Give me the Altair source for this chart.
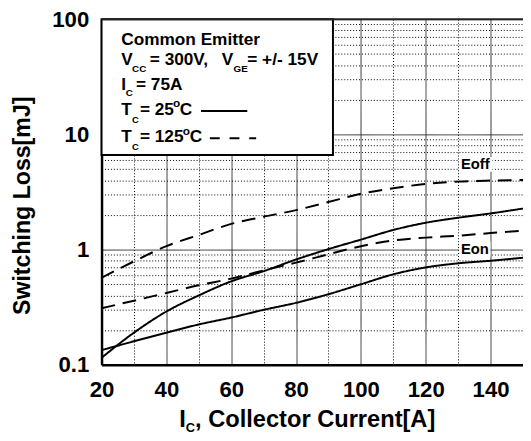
import altair as alt
import pandas as pd

FONT = "Liberation Sans, Arial, Helvetica, sans-serif"

# Collector current [A]
current = [20, 30, 40, 50, 60, 70, 80, 90, 100, 110, 120, 130, 140, 150]
# Switching loss [mJ]
eoff_125 = [0.57, 0.79, 1.07, 1.34, 1.67, 1.93, 2.20, 2.59, 3.05, 3.41, 3.71, 3.89, 3.97, 4.02]
eoff_25 = [0.115, 0.19, 0.29, 0.40, 0.53, 0.65, 0.82, 1.01, 1.22, 1.48, 1.71, 1.89, 2.06, 2.27]
eon_125 = [0.31, 0.36, 0.42, 0.49, 0.56, 0.66, 0.77, 0.91, 1.07, 1.20, 1.27, 1.32, 1.39, 1.46]
eon_25 = [0.134, 0.16, 0.19, 0.224, 0.257, 0.30, 0.345, 0.41, 0.50, 0.61, 0.70, 0.76, 0.80, 0.85]

x_grid = [20, 30, 40, 50, 60, 70, 80, 90, 100, 110, 120, 130, 140, 150]
y_grid = [0.1, 0.2, 0.3, 0.4, 0.5, 0.6, 0.7, 0.8, 0.9,
          1, 2, 3, 4, 5, 6, 7, 8, 9,
          10, 20, 30, 40, 50, 60, 70, 80, 90, 100]

series = [("Eoff 125", eoff_125, "125°C"), ("Eoff 25", eoff_25, "25°C"),
          ("Eon 125", eon_125, "125°C"), ("Eon 25", eon_25, "25°C")]
rows = []
for name, vals, temp in series:
    for c, v in zip(current, vals):
        rows.append({"current": c, "loss": v, "curve": name, "temp": temp})
df = pd.DataFrame(rows)

W, H = 428, 351

xaxis = alt.Axis(
    values=x_grid,
    labelExpr="(datum.value % 20 == 0 && datum.value < 150) ? datum.label : ''",
    title=None, grid=True,
    gridColor={"condition": {"test": "datum.value % 20 == 0", "value": "#333333"}, "value": "#000000"},
    gridDash={"condition": {"test": "datum.value % 20 == 0", "value": [1, 0]}, "value": [1, 2]},
    gridWidth=1, ticks=False, tickSize=0,
    domainColor="black", domainWidth=2.5,
    labelFont=FONT, labelFontSize=22.5, labelFontWeight="bold", labelColor="black",
    labelPadding=14, labelFlush=False, labelOverlap=False,
)
yaxis = alt.Axis(
    values=y_grid,
    labelExpr="indexof([0.1, 1, 10, 100], datum.value) >= 0 ? format(datum.value, '~g') : ''",
    title="Switching Loss[mJ]", titleFont=FONT, titleFontSize=23.5, titleFontWeight="bold",
    titleColor="black", titlePadding=18, titleY=189,
    grid=True,
    gridColor={"condition": {"test": "indexof([0.1, 1, 10, 100], datum.value) >= 0", "value": "#333333"}, "value": "#000000"},
    gridDash={"condition": {"test": "indexof([0.1, 1, 10, 100], datum.value) >= 0", "value": [1, 0]}, "value": [1, 2]},
    gridWidth=1, ticks=False, tickSize=0,
    domainColor="black", domainWidth=2.5,
    labelFont=FONT, labelFontSize=22.5, labelFontWeight="bold", labelColor="black",
    labelPadding=13, labelOverlap=False,
)

lines = alt.Chart(df).mark_line(color="black", strokeWidth=2, interpolate="monotone", clip=True).encode(
    x=alt.X("current:Q", scale=alt.Scale(domain=[20, 150], nice=False, zero=False), axis=xaxis),
    y=alt.Y("loss:Q", scale=alt.Scale(type="log", domain=[0.1, 100], nice=False), axis=yaxis),
    detail="curve:N",
    strokeDash=alt.StrokeDash("temp:N", scale=alt.Scale(domain=["25°C", "125°C"], range=[[1, 0], [14, 8]]), legend=None),
)

ONE = alt.InlineData(values=[{"a": 0}])


def txt(s, x, y, size, align="left"):
    return alt.Chart(ONE).mark_text(
        text=s, font=FONT, fontSize=size, fontWeight="bold", color="black",
        align=align, baseline="alphabetic"
    ).encode(x=alt.value(x), y=alt.value(y))


def rect(x, x2, y, y2, stroke=None, sw=0):
    kw = dict(fill="white")
    if stroke:
        kw.update(stroke=stroke, strokeWidth=sw)
    return alt.Chart(ONE).mark_rect(**kw).encode(
        x=alt.value(x), x2=alt.value(x2), y=alt.value(y), y2=alt.value(y2))


def rule(x, x2, y, dash=None, sw=2, color="black"):
    kw = dict(color=color, strokeWidth=sw)
    if dash:
        kw["strokeDash"] = dash
    return alt.Chart(ONE).mark_rule(**kw).encode(
        x=alt.value(x), x2=alt.value(x2), y=alt.value(y))


legend_box = rect(0, 235, 0, 138, stroke="black", sw=2)

F = 17.5
texts = [
    txt("Common Emitter", 20, 26, F),
    txt("V", 20, 47, F), txt("CC", 31, 53.5, 10), txt("= 300V,", 49, 47, F),
    txt("V", 122, 47, F), txt("GE", 134, 53.5, 10), txt("= +/- 15V", 148, 47, F),
    txt("I", 20, 72, F), txt("C", 24.5, 78.5, 10), txt("= 75A", 35, 72, F),
    txt("T", 20, 97, F), txt("C", 31, 105, 9.5), txt("= 25", 39, 97, F),
    txt("o", 72.5, 89.5, 12), txt("C", 79.5, 97, F),
    txt("T", 20, 125, F), txt("C", 31, 133.3, 9.5), txt("= 125", 39, 125, F),
    txt("o", 82.5, 117.5, 12), txt("C", 89.5, 125, F),
]
legend_lines = [
    rule(101, 148, 93.3, sw=2),
    rule(110, 157, 121, dash=[10, 10], sw=2),
]

curve_labels = [
    rect(363, 397, 140, 155), txt("Eoff", 365, 152, 15),
    rect(363, 395, 226, 241), txt("Eon", 365, 238, 15),
]

xtitle = [
    txt("I", 79, 414.5, 24), txt("C", 85.5, 419.5, 13),
    txt(", Collector Current[A]", 95, 414.5, 24),
]

top_border = rule(0, W, 0, sw=2, color="#222222")

chart = alt.layer(
    lines, legend_box, *legend_lines, *texts, *curve_labels, *xtitle, top_border
).properties(
    width=W, height=H,
    autosize=alt.AutoSizeParams(type="none"),
    padding={"left": 95, "top": 8, "right": 0, "bottom": 70},
).configure_view(stroke=None)

chart.save("out.html", embed_options={"renderer": "svg", "actions": False})
